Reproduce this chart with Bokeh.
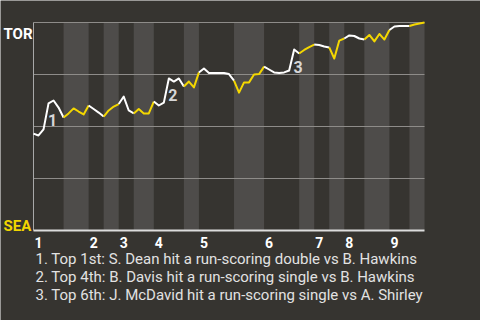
from bokeh.plotting import figure
from bokeh.models import Range1d
from bokeh.core.properties import value
from bokeh.embed import file_html
from bokeh.resources import INLINE

# Toronto win probability after each play (0 = SEA wins, 1 = TOR wins)
win_prob = [
    0.466, 0.457, 0.486, 0.611, 0.625, 0.591, 0.543,          # top 1st
    0.563, 0.587, 0.572, 0.558, 0.601,                        # bottom 1st
    0.584, 0.567, 0.548,                                      # top 2nd
    0.577, 0.596, 0.608,                                      # bottom 2nd
    0.644, 0.577, 0.563,                                      # top 3rd
    0.584, 0.563, 0.563, 0.620,                               # bottom 3rd
    0.601, 0.615, 0.731, 0.716, 0.731, 0.692,                 # top 4th
    0.716, 0.688, 0.760,                                      # bottom 4th
    0.779, 0.757, 0.757, 0.757, 0.757, 0.752, 0.721,          # top 5th
    0.663, 0.712, 0.712, 0.750, 0.752, 0.788,                 # bottom 5th
    0.774, 0.760, 0.757, 0.760, 0.769, 0.870, 0.851,          # top 6th
    0.868, 0.882, 0.894,                                      # bottom 6th
    0.892, 0.885, 0.880,                                      # top 7th
    0.827, 0.913, 0.923,                                      # bottom 7th
    0.938, 0.935, 0.923, 0.918,                               # top 8th
    0.940, 0.909, 0.945, 0.918, 0.964,                        # bottom 8th
    0.981, 0.983, 0.983, 0.983,                               # top 9th
    0.990, 0.995, 1.000,                                      # bottom 9th
]

# Play index where each half-inning begins (top 1st ... bottom 9th), then the last play
half_inning_starts = [0, 6, 11, 14, 17, 20, 24, 30, 33, 40, 46, 53, 56, 59, 62, 66, 71, 75, 78]
inning_labels = ["1", "2", "3", "4", "5", "6", "7", "8", "9"]

team_labels = ["TOR", "SEA"]
team_values = [1.0, 0.0]
team_colors = ["#ffffff", "#f2d600"]

key_play_index = [3, 27, 52]
key_play_tags = ["1", "2", "3"]
key_play_notes = [
    "1. Top 1st: S. Dean hit a run-scoring double vs B. Hawkins",
    "2. Top 4th: B. Davis hit a run-scoring single vs B. Hawkins",
    "3. Top 6th: J. McDavid hit a run-scoring single vs A. Shirley",
]
grid_levels = [0.25, 0.5, 0.75, 1.0]

BG = "#363430"
STRIPE = "#4e4c4a"
AWAY_COLOR = "#ffffff"
HOME_COLOR = "#f4d700"

last_play = half_inning_starts[-1]
step = 391.0 / last_play          # pixels per play
x0_px, y0_px, h_px = 33.0, 230.0, 208.0

p = figure(
    width=480, height=320,
    x_range=Range1d(-x0_px / step, (480 - x0_px) / step),
    y_range=Range1d(-(320 - y0_px) / h_px, y0_px / h_px),
    min_border=0, toolbar_location=None, output_backend="svg",
    x_axis_location=None, y_axis_location=None,
)
p.grid.visible = False
p.outline_line_color = None
p.background_fill_color = BG
p.border_fill_color = BG

# shaded columns for the bottom halves
bottom_left = half_inning_starts[1:-1:2]
bottom_right = half_inning_starts[2::2]
p.quad(left=bottom_left, right=bottom_right, bottom=0, top=1,
       fill_color=STRIPE, line_color=None)

# horizontal guides and frame
p.segment(x0=0, x1=last_play, y0=grid_levels, y1=grid_levels,
          line_color="#8e8c89", line_width=1)
p.segment(x0=[0], x1=[0], y0=[0], y1=[1], line_color="#a8a8a8", line_width=1)
p.segment(x0=[0], x1=[last_play], y0=[0], y1=[0], line_color="#dcdcdc", line_width=2)

# win-probability line, coloured by the batting team
xs, ys, cols = [], [], []
for k in range(len(half_inning_starts) - 1):
    a, b = half_inning_starts[k], half_inning_starts[k + 1]
    xs.append(list(range(a, b + 1)))
    ys.append(win_prob[a:b + 1])
    cols.append(AWAY_COLOR if k % 2 == 0 else HOME_COLOR)
p.multi_line(xs=xs, ys=ys, line_color=cols, line_width=2, line_join="round")

# key play markers
p.text(x=key_play_index, y=[win_prob[i] for i in key_play_index], text=key_play_tags,
       text_font=value("Roboto"), text_font_style="bold", text_font_size="16px",
       text_color="#d6d6d6", text_align="center", text_baseline="alphabetic",
       x_offset=4, y_offset=17)

# inning numbers along the bottom
top_starts = half_inning_starts[0:-1:2]
p.text(x=top_starts, y=0, text=inning_labels,
       text_font=value("Roboto"), text_font_style="bold", text_font_size="14px",
       text_color="#ffffff", text_align="left", text_baseline="alphabetic",
       x_offset=1, y_offset=12)

# team labels at either end of the scale
p.text(x=[0, 0], y=team_values, text=team_labels,
       text_font=value("Roboto"), text_font_style="bold", text_font_size="15px",
       text_color=team_colors, text_align="left", text_baseline="alphabetic",
       x_offset=-30, y_offset=[11, -5])

# notes for the key plays
p.text(x=0, y=0, text=key_play_notes,
       text_font=value("Roboto"), text_font_size="15px",
       text_color="#e2e2e2", text_align="left", text_baseline="alphabetic",
       x_offset=2, y_offset=[28, 46, 64])

open("out.html", "w").write(file_html(p, INLINE))
